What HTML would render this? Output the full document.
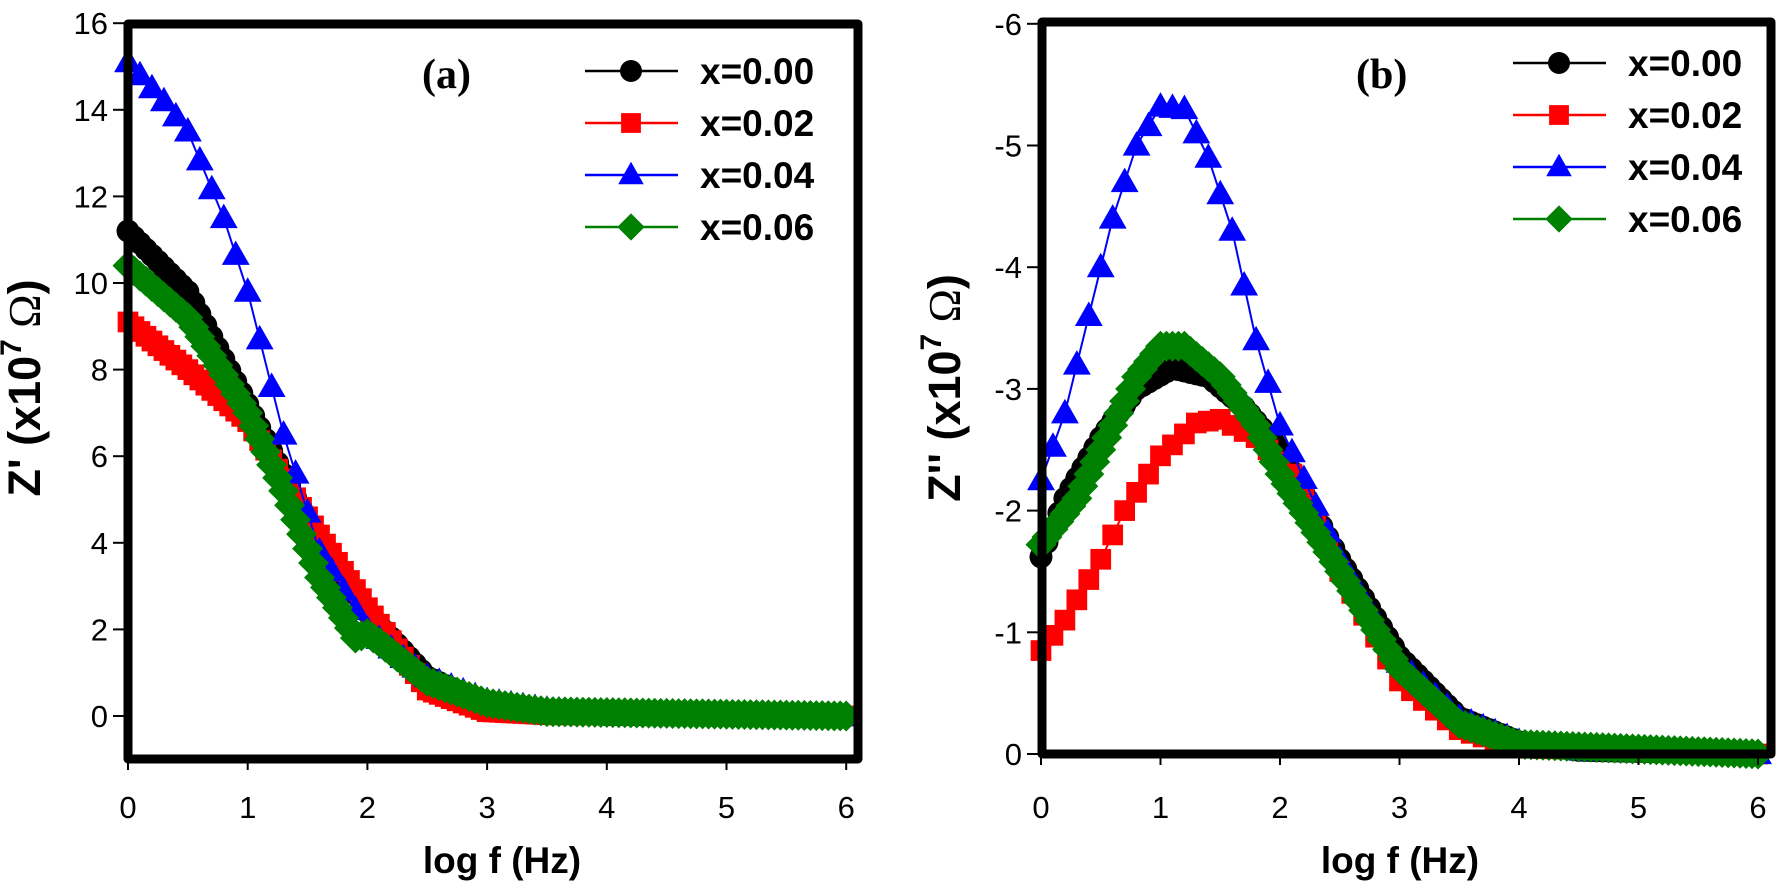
<!DOCTYPE html>
<html><head><meta charset="utf-8">
<style>
html,body{margin:0;padding:0;background:#fff;}
svg{display:block;}
text{font-family:"Liberation Sans",Arial,sans-serif;}
</style></head>
<body>
<svg id="s" width="1777" height="891" viewBox="0 0 1777 891" xmlns="http://www.w3.org/2000/svg"></svg>
<script>
const S=document.getElementById('s');let h='';
function interp(pts,x){for(let i=0;i<pts.length-1;i++){const a=pts[i],b=pts[i+1];if(x>=a[0]-1e-9&&x<=b[0]+1e-9){return a[1]+(b[1]-a[1])*(x-a[0])/(b[0]-a[0]);}}return pts[pts.length-1][1];}
function marker(t,x,y,c,s){
 if(t=='c')return `<circle cx="${x}" cy="${y}" r="${s*0.5}" fill="${c}"/>`;
 if(t=='s')return `<rect x="${x-s*0.45}" y="${y-s*0.45}" width="${s*0.9}" height="${s*0.9}" fill="${c}"/>`;
 if(t=='t')return `<polygon points="${x},${y-s*0.6} ${x-s*0.58},${y+s*0.42} ${x+s*0.58},${y+s*0.42}" fill="${c}"/>`;
 if(t=='d')return `<polygon points="${x},${y-s*0.62} ${x+s*0.62},${y} ${x},${y+s*0.62} ${x-s*0.62},${y}" fill="${c}"/>`;
}
function series(pts,X,Y,c,t,s,st){let p='',m='';const n=Math.round(6/st);for(let i=0;i<=n;i++){const x=i*st;const v=interp(pts,x);const px=X(x),py=Y(v);p+=(i?'L':'M')+px.toFixed(1)+' '+py.toFixed(1);m+=marker(t,px,py,c,s);}
 return `<path d="${p}" fill="none" stroke="${c}" stroke-width="2"/>`+m;}
function panel(o){
 const {X,Y,x0,x1,y0,y1,yt,ytl,tickX,ylab,ylx,lx,lt,lrows,lab,labx,laby,xlabx,data}=o;
 for(const d of data) h+=series(d.p,X,Y,d.c,d.t,d.s,d.st);
 h+=`<rect x="${x0}" y="${y0}" width="${x1-x0}" height="${y1-y0}" fill="none" stroke="#000" stroke-width="9" stroke-linejoin="round"/>`;
 yt.forEach((v,i)=>{const y=Y(v);h+=`<line x1="${x0-15}" y1="${y}" x2="${x0}" y2="${y}" stroke="#000" stroke-width="2"/>`;
  h+=`<text x="${x0-20}" y="${y+11}" font-size="31" text-anchor="end">${ytl[i]}</text>`;});
 for(let i=0;i<=6;i++){const x=X(i);h+=`<line x1="${x}" y1="${y1}" x2="${x}" y2="${y1+11}" stroke="#000" stroke-width="2"/>`;
  h+=`<text x="${x}" y="${tickX}" font-size="31" text-anchor="middle">${i}</text>`;}
 h+=`<text x="${xlabx}" y="873" font-size="37" font-weight="bold" text-anchor="middle">log f (Hz)</text>`;
 h+=`<text transform="translate(${ylx},388) rotate(-90)" font-size="45" font-weight="bold" text-anchor="middle">${ylab} (x10<tspan font-size="30" dy="-19">7</tspan><tspan dy="19" font-weight="normal" font-family="Liberation Serif"> Ω</tspan>)</text>`;
 h+=`<text x="${labx}" y="${laby}" font-size="42" font-weight="bold" font-family="Liberation Serif" style="font-family:'Liberation Serif',serif">${lab}</text>`;
 data.forEach((d,i)=>{const y=lrows[i];h+=`<line x1="${lx}" y1="${y}" x2="${lx+93}" y2="${y}" stroke="${d.c}" stroke-width="2.5"/>`+marker(d.t,lx+46,y,d.c,22);
  h+=`<text x="${lt}" y="${y+13}" font-size="37" font-weight="bold">${d.n}</text>`;});
}
const A=[
 {n:'x=0.00',c:'#000',t:'c',s:23,st:0.05,p:[[0,11.2],[0.5,9.8],[1,7.2],[1.5,4.5],[2,2.4],[2.5,0.9],[3,0.25],[3.5,0.08],[4,0.03],[6,0]]},
 {n:'x=0.02',c:'#ff0000',t:'s',s:23,st:0.05,p:[[0,9.1],[0.5,8.0],[1,6.8],[1.5,4.6],[2,2.5],[2.5,0.6],[3,0.1],[3.5,0.03],[6,0]]},
 {n:'x=0.04',c:'#0000ff',t:'t',s:24,st:0.1,p:[[0,15.1],[0.3,14.2],[0.5,13.5],[0.8,11.5],[1,9.8],[1.3,6.5],[1.6,3.8],[2,2.0],[2.5,0.9],[3,0.35],[3.5,0.15],[4,0.06],[6,0]]},
 {n:'x=0.06',c:'#008000',t:'d',s:25,st:0.05,p:[[0,10.4],[0.5,9.2],[1,7.0],[1.3,5.2],[1.6,3.2],[1.9,1.8],[2,1.9],[2.1,1.7],[2.5,0.8],[3,0.3],[3.5,0.1],[6,0]]}
];
panel({X:x=>128+119.7*x,Y:v=>716-43.3*v,x0:128,x1:858,y0:24,y1:759,yt:[0,2,4,6,8,10,12,14,16],ytl:['0','2','4','6','8','10','12','14','16'],
 tickX:818,ylab:"Z'",ylx:40,lx:585,lt:700,lrows:[71,123,175,227],lab:'(a)',labx:422,laby:88,xlabx:502,data:A});
const B=[
 {n:'x=0.00',c:'#000',t:'c',s:23,st:0.05,p:[[0,1.62],[0.2,2.1],[0.5,2.6],[0.8,3.0],[1.1,3.17],[1.4,3.1],[1.7,2.85],[2,2.5],[2.5,1.6],[3,0.8],[3.5,0.3],[4,0.1],[4.5,0.03],[6,0]]},
 {n:'x=0.02',c:'#ff0000',t:'s',s:23,st:0.1,p:[[0,0.85],[0.2,1.1],[0.5,1.6],[0.7,2.0],[1,2.45],[1.3,2.72],[1.5,2.75],[1.8,2.6],[2.1,2.3],[2.5,1.5],[3,0.6],[3.5,0.2],[4,0.05],[6,0]]},
 {n:'x=0.04',c:'#0000ff',t:'t',s:24,st:0.1,p:[[0,2.25],[0.2,2.8],[0.4,3.6],[0.6,4.4],[0.8,5.0],[1,5.32],[1.2,5.3],[1.4,4.9],[1.6,4.3],[1.8,3.4],[2,2.7],[2.5,1.6],[3,0.75],[3.5,0.3],[4,0.1],[4.5,0.03],[6,0]]},
 {n:'x=0.06',c:'#008000',t:'d',s:25,st:0.05,p:[[0,1.72],[0.3,2.1],[0.5,2.5],[0.8,3.1],[1,3.35],[1.2,3.35],[1.5,3.1],[1.8,2.7],[2,2.3],[2.5,1.5],[3,0.7],[3.5,0.25],[4,0.08],[6,0]]}
];
panel({X:x=>1041+119.5*x,Y:v=>754-121.7*v,x0:1042,x1:1771,y0:22,y1:754,yt:[0,1,2,3,4,5,6],ytl:['0','-1','-2','-3','-4','-5','-6'],
 tickX:818,ylab:"Z''",ylx:960,lx:1513,lt:1628,lrows:[63,115,167,219],lab:'(b)',labx:1356,laby:88,xlabx:1400,data:B});
S.innerHTML=h;
</script>
</body></html>
